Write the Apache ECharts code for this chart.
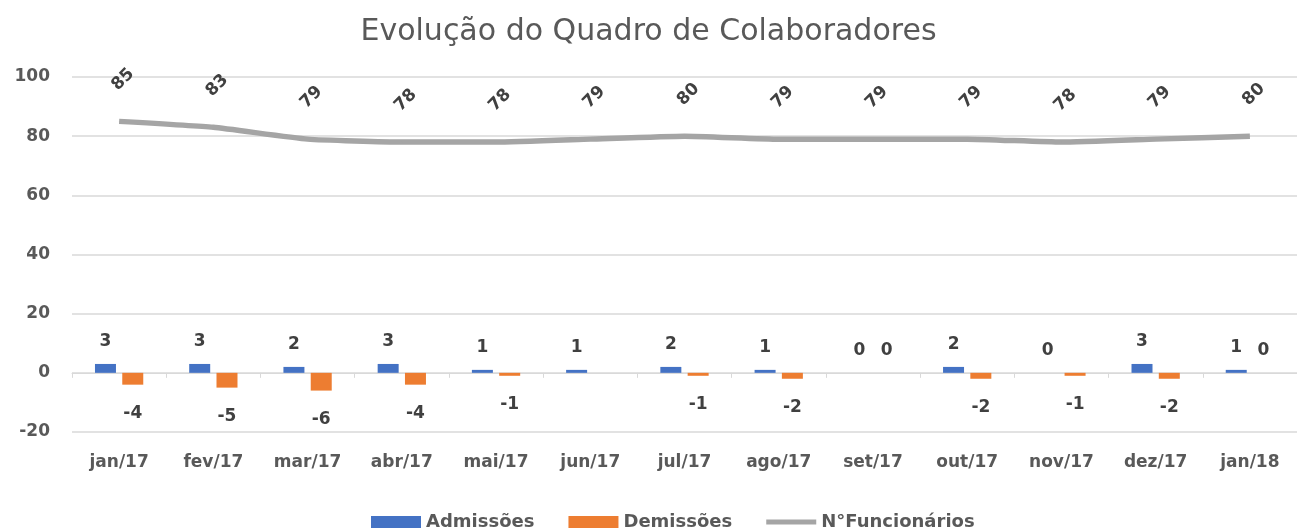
<!DOCTYPE html>
<html>
<head>
<meta charset="utf-8">
<script src="https://cdn.jsdelivr.net/npm/echarts@6/dist/echarts.min.js"></script>
<style>
  html, body { margin: 0; padding: 0; background: #fff; }
  #chart { width: 1297px; height: 530px; }
</style>
</head>
<body>
<div id="chart"></div>
<script>
const categories = ['jan/17', 'fev/17', 'mar/17', 'abr/17', 'mai/17', 'jun/17', 'jul/17', 'ago/17', 'set/17', 'out/17', 'nov/17', 'dez/17', 'jan/18']
const admissoes = [3, 3, 2, 3, 1, 1, 2, 1, 0, 2, 0, 3, 1]
const demissoes = [-4, -5, -6, -4, -1, null, -1, -2, 0, -2, -1, -2, 0]
const funcionarios = [85, 83, 79, 78, 78, 79, 80, 79, 79, 79, 78, 79, 80]
const yTicks = { min: -20, max: 100, interval: 20 }

const txt = '#595959'
const labelFont = { fontFamily: 'DejaVu Sans', fontWeight: 'bold', fontSize: 17, color: '#404040' }

const chart = echarts.init(document.getElementById('chart'))

// zero values of Demissões are labelled above the axis, the negatives below
const demissoesData = demissoes.map(v => ({
    value: v,
    label: { position: v === 0 ? 'top' : 'bottom', distance: v === 0 ? 14 : 20 }
}))

chart.setOption({
    animation: false,
    title: {
        text: 'Evolução do Quadro de Colaboradores',
        left: 'center',
        top: 12,
        textStyle: { fontFamily: 'DejaVu Sans', fontWeight: 'normal', fontSize: 30, color: txt }
    },
    legend: {
        bottom: -6,
        left: 366,
        itemWidth: 50,
        itemHeight: 12,
        itemGap: 34,
        textStyle: { fontFamily: 'DejaVu Sans', fontWeight: 'bold', fontSize: 18, color: txt },
        data: [
            { name: 'Admissões', icon: 'rect' },
            { name: 'Demissões', icon: 'rect' },
            { name: 'N°Funcionários', icon: 'path://M0 0 H 100 V 10 H 0 Z', itemStyle: { color: '#A5A5A5', opacity: 1 } }
        ]
    },
    grid: { left: 72, top: 77, width: 1239, height: 355, containLabel: false },
    xAxis: [{
        type: 'category',
        data: categories,
        position: 'bottom',
        axisLine: { show: false, onZero: false },
        axisTick: { show: false },
        axisLabel: { margin: 22, fontFamily: 'DejaVu Sans', fontWeight: 'bold', fontSize: 17, color: txt }
    }, {
        type: 'category',
        data: categories,
        position: 'bottom',
        axisLine: { show: true, onZero: true, lineStyle: { color: '#D9D9D9', width: 1 } },
        axisTick: { show: true, length: 5, lineStyle: { color: '#D9D9D9' } },
        axisLabel: { show: false }
    }],
    yAxis: {
        type: 'value',
        min: yTicks.min,
        max: yTicks.max,
        interval: yTicks.interval,
        axisLine: { show: false },
        axisTick: { show: false },
        axisLabel: { margin: 22, fontFamily: 'DejaVu Sans', fontWeight: 'bold', fontSize: 17, color: txt },
        splitLine: { lineStyle: { color: '#D9D9D9', width: 1.5 } }
    },
    series: [{
        name: 'Admissões',
        type: 'bar',
        data: admissoes,
        barWidth: 21,
        barGap: '30%',
        itemStyle: { color: '#4472C4' },
        label: Object.assign({ show: true, position: 'top', distance: 14 }, labelFont)
    }, {
        name: 'Demissões',
        type: 'bar',
        data: demissoesData,
        barWidth: 21,
        barGap: '30%',
        itemStyle: { color: '#ED7D31' },
        label: Object.assign({ show: true }, labelFont)
    }, {
        name: 'N°Funcionários',
        type: 'line',
        data: funcionarios,
        smooth: 0.15,
        symbol: 'circle',
        symbolSize: 0.5,
        showSymbol: true,
        z: 3,
        lineStyle: { color: '#A5A5A5', width: 5.5 },
        itemStyle: { color: '#A5A5A5' },
        label: Object.assign({ show: true, position: 'top', distance: 27, rotate: 45, offset: [13, 1] }, labelFont)
    }]
})
</script>
</body>
</html>
